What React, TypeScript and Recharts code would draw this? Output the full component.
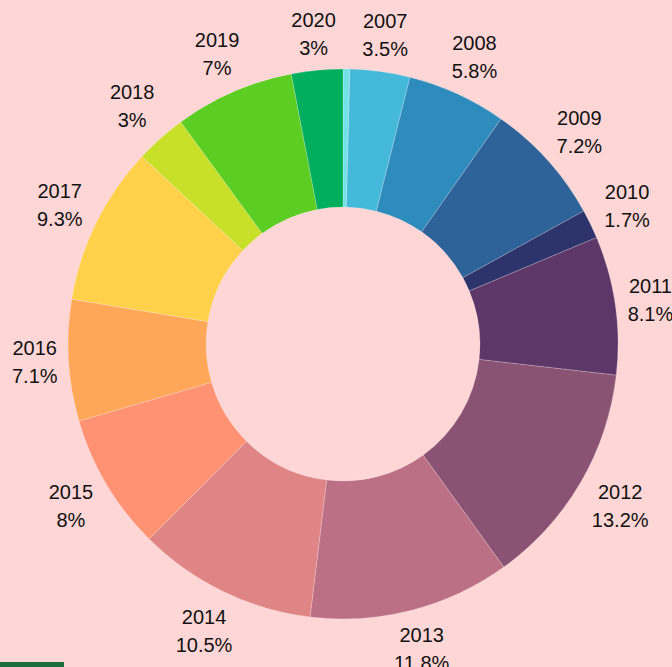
import React from 'react';
import { PieChart, Pie, Cell } from 'recharts';

// first entry is the unlabelled sliver at 12 o'clock
const years = ['', '2007', '2008', '2009', '2010', '2011', '2012', '2013', '2014', '2015', '2016', '2017', '2018', '2019', '2020'];
const shares = [0.4, 3.5, 5.8, 7.2, 1.7, 8.1, 13.2, 11.8, 10.5, 8, 7.1, 9.3, 3, 7, 3];
const shareLabels = ['', '3.5%', '5.8%', '7.2%', '1.7%', '8.1%', '13.2%', '11.8%', '10.5%', '8%', '7.1%', '9.3%', '3%', '7%', '3%'];
const colors = [
  '#72e2e6', '#44b9d9', '#2e8cbc', '#2d6399', '#2d336b', '#5c3768', '#8a5273',
  '#bb7085', '#e08586', '#ff9273', '#ffa758', '#ffd04a', '#c9e02a', '#5ccd22', '#00ae5e',
];

const data = years.map((year, i) => ({ year, value: shares[i], label: shareLabels[i] }));

const BG = '#ffd6d6';
const RADIAN = Math.PI / 180;

// label box sits just outside the ring, pushed out by its own half extents
const renderLabel = (props: any) => {
  const { cx, cy, midAngle, index } = props;
  if (!years[index]) return null;
  const ux = Math.cos(-midAngle * RADIAN);
  const uy = Math.sin(-midAngle * RADIAN);
  const hw = Math.max(years[index].length, shareLabels[index].length) * 5.6;
  const hh = 24;
  const r = 285 + hw * Math.abs(ux) + hh * Math.abs(uy);
  const x = cx + r * ux;
  const y = cy + r * uy;
  return (
    <text
      x={x}
      y={y}
      textAnchor="middle"
      fill="#111"
      fontSize={20}
      fontFamily="'Liberation Sans', Arial, sans-serif"
    >
      <tspan x={x} y={y - 7}>{years[index]}</tspan>
      <tspan x={x} y={y + 21}>{shareLabels[index]}</tspan>
    </text>
  );
};

export default function App() {
  return (
    <div
      style={{
        position: 'absolute',
        top: 0,
        left: 0,
        width: 672,
        height: 667,
        background: BG,
        overflow: 'hidden',
      }}
    >
      <PieChart width={672} height={667} margin={{ top: 0, right: 0, bottom: 0, left: 0 }}>
        <Pie
          data={data}
          dataKey="value"
          nameKey="year"
          cx={343}
          cy={344}
          innerRadius={137}
          outerRadius={275}
          startAngle={90}
          endAngle={-270}
          stroke="rgba(255,255,255,0.35)"
          strokeWidth={0.6}
          label={renderLabel}
          labelLine={false}
          isAnimationActive={false}
        >
          {data.map((d, i) => (
            <Cell key={i} fill={colors[i]} />
          ))}
        </Pie>
      </PieChart>
      <div
        style={{
          position: 'absolute',
          left: 0,
          top: 662,
          width: 64,
          height: 5,
          background: '#1c6e3a',
        }}
      />
    </div>
  );
}
